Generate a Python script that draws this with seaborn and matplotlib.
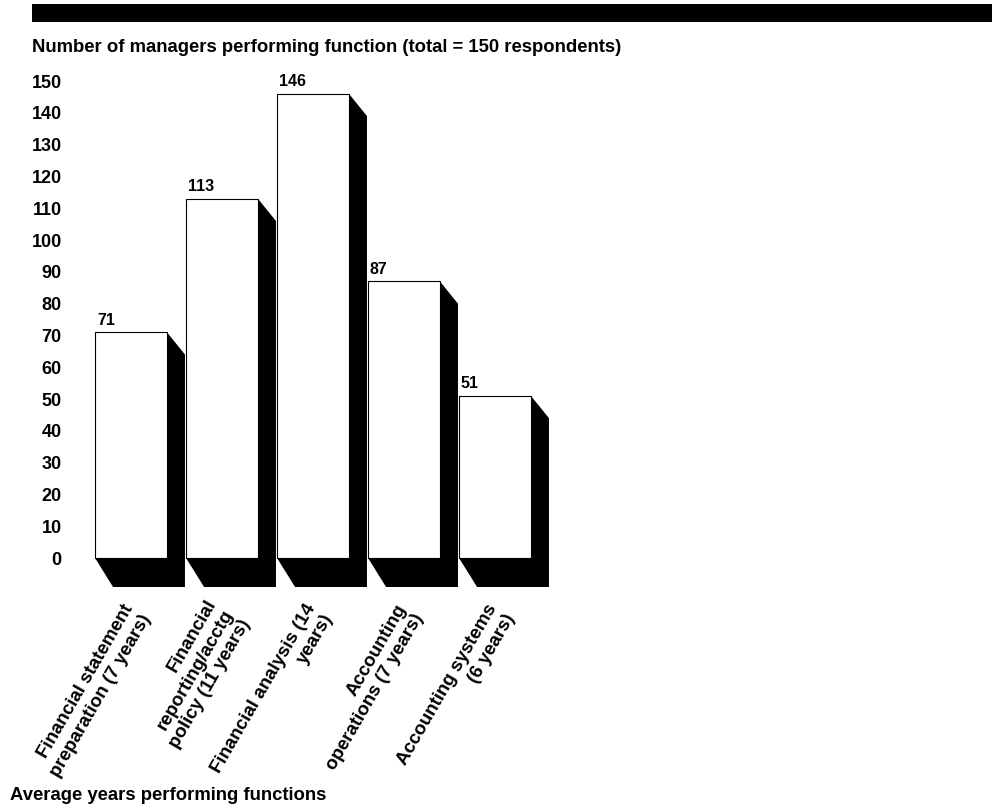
import numpy as np
import matplotlib
matplotlib.use("Agg")
import matplotlib.pyplot as plt
from matplotlib.patches import Polygon, Rectangle
from matplotlib.transforms import ScaledTranslation
import seaborn as sns
import pandas as pd

# data
functions = [
    "Financial statement\npreparation (7 years)",
    "Financial\nreporting/acctg\npolicy (11 years)",
    "Financial analysis (14\nyears)",
    "Accounting\noperations (7 years)",
    "Accounting systems\n(6 years)",
]
managers = [71, 113, 146, 87, 51]
yticks = list(range(0, 151, 10))

sns.set_style("white")
plt.rcParams['font.family'] = ['Liberation Sans', 'DejaVu Sans']
plt.rcParams['font.weight'] = 'bold'
plt.rcParams['text.color'] = 'black'
plt.rcParams['xtick.color'] = 'black'
plt.rcParams['ytick.color'] = 'black'

W, H = 992, 808
fig = plt.figure(figsize=(W / 100, H / 100), dpi=100)

# axes placed in pixels: x 70..560, y 75..587
ax_l, ax_r, ax_t, ax_b = 70, 560, 75, 587
ax = fig.add_axes([ax_l / W, 1 - ax_b / H, (ax_r - ax_l) / W, (ax_b - ax_t) / H])

df = pd.DataFrame({"function": functions, "managers": managers})
bar_w = 0.79
sns.barplot(data=df, x="function", y="managers", color="white", edgecolor="black",
            linewidth=0.8, width=bar_w, saturation=1, ax=ax, zorder=3)

# px per unit: x 91 px, y 3.18 px
floor = -9.1
ax.set_xlim((ax_l - 131) / 91, (ax_r - 131) / 91)
ax.set_ylim(floor, floor + (ax_b - ax_t) / 3.18)

# 3D-ish black shadow behind each bar
dx, dy_top = 0.198, 7.0
for i, v in enumerate(managers):
    L, R = i - bar_w / 2, i + bar_w / 2
    pts = [(L, 0), (L + dx, floor), (R + dx, floor), (R + dx, v - dy_top), (R, v)]
    ax.add_patch(Polygon(pts, closed=True, facecolor="black", edgecolor="none",
                         zorder=2, clip_on=False))
    ax.text(L + 0.02, v + 1.5, str(v), ha="left", va="bottom",
            fontsize=11.5, fontweight="bold")

for s in ax.spines.values():
    s.set_visible(False)
ax.set_xlabel("")
ax.set_ylabel("")
ax.set_yticks(yticks)
ax.set_yticklabels([str(t) for t in yticks], fontsize=13, fontweight="bold")
ax.tick_params(axis="y", length=0, pad=6)
ax.tick_params(axis="x", length=0, pad=17)
ax.set_xticks(range(len(functions)))
ax.set_xticklabels(functions, rotation=60, ha="right", va="center",
                   rotation_mode="anchor", multialignment="right",
                   fontsize=13.5, fontweight="bold", linespacing=1.2)
off = ScaledTranslation(7 / 100, 0, fig.dpi_scale_trans)
for lab in ax.get_xticklabels():
    lab.set_transform(lab.get_transform() + off)

# black banner on top
fig.patches.append(Rectangle((32 / W, 1 - 22 / H), 1 - 32 / W, 18 / H,
                             transform=fig.transFigure, facecolor="black",
                             edgecolor="none"))
fig.text(32 / W, 1 - 48 / H, "Number of managers performing function (total = 150 respondents)",
         ha="left", va="center", fontsize=13.3, fontweight="bold")
fig.text(10 / W, 1 - 795 / H, "Average years performing functions",
         ha="left", va="center", fontsize=13.3, fontweight="bold")

fig.savefig("out.png", dpi=100)
